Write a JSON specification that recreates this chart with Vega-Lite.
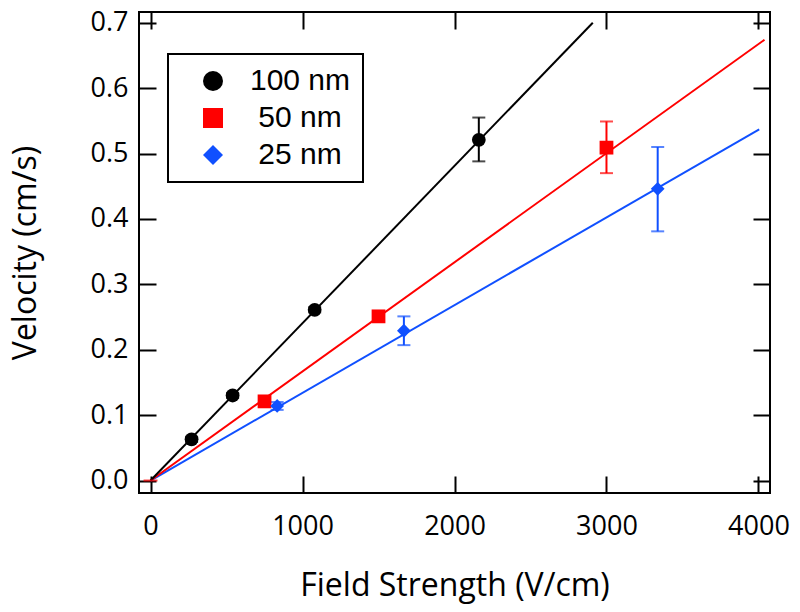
{
  "$schema": "https://vega.github.io/schema/vega-lite/v6.json",
  "width": 631,
  "height": 481,
  "autosize": {"type": "none"},
  "padding": {"left": 139, "top": 12, "right": 30, "bottom": 119},
  "background": "white",
  "datasets": {
    "pts": [
      {"series": "100 nm", "x": 270, "y": 0.063, "lo": 0.059, "hi": 0.067},
      {"series": "100 nm", "x": 540, "y": 0.130, "lo": 0.126, "hi": 0.134},
      {"series": "100 nm", "x": 1080, "y": 0.261, "lo": 0.257, "hi": 0.265},
      {"series": "100 nm", "x": 2160, "y": 0.521, "lo": 0.488, "hi": 0.555},
      {"series": "50 nm", "x": 750, "y": 0.121, "lo": 0.116, "hi": 0.126},
      {"series": "50 nm", "x": 1500, "y": 0.251, "lo": 0.246, "hi": 0.256},
      {"series": "50 nm", "x": 3000, "y": 0.509, "lo": 0.470, "hi": 0.549},
      {"series": "25 nm", "x": 833, "y": 0.114, "lo": 0.108, "hi": 0.120},
      {"series": "25 nm", "x": 1667, "y": 0.229, "lo": 0.207, "hi": 0.251},
      {"series": "25 nm", "x": 3337, "y": 0.446, "lo": 0.381, "hi": 0.510}
    ],
    "origin": [
      {"series": "50 nm", "x": 0, "lo": 0, "hi": 0}
    ],
    "fits": [
      {"series": "25 nm", "x": 0, "y": 0},
      {"series": "25 nm", "x": 4005, "y": 0.537},
      {"series": "50 nm", "x": 0, "y": 0},
      {"series": "50 nm", "x": 4040, "y": 0.674},
      {"series": "100 nm", "x": 0, "y": 0},
      {"series": "100 nm", "x": 2910, "y": 0.700}
    ]
  },
  "layer": [
    {
      "data": {"name": "fits"},
      "mark": {"type": "line", "strokeWidth": 2},
      "encoding": {
        "x": {"field": "x", "type": "quantitative",
          "scale": {"domain": [-76, 4076], "nice": false, "zero": false},
          "axis": {"orient": "bottom", "values": [0, 1000, 2000, 3000, 4000], "format": "d", "title": "Field Strength (V/cm)",
            "labelPadding": 37, "titleY": 102, "titleBaseline": "alphabetic"}},
        "y": {"field": "y", "type": "quantitative",
          "scale": {"domain": [-0.0191, 0.7164], "nice": false, "zero": false},
          "axis": {"orient": "left", "values": [0, 0.1, 0.2, 0.3, 0.4, 0.5, 0.6, 0.7], "format": ".1f", "title": "Velocity (cm/s)",
            "labelPadding": 28, "titleX": -104, "titleBaseline": "alphabetic"}},
        "stroke": {"field": "series", "type": "nominal", "legend": null,
          "scale": {"domain": ["25 nm", "100 nm", "50 nm"], "range": ["#1050ff", "#000000", "#ff0000"]}},
        "detail": {"field": "series"}
      }
    },
    {
      "data": {"name": "pts"},
      "mark": {"type": "rule", "strokeWidth": 2},
      "encoding": {
        "x": {"field": "x", "type": "quantitative", "axis": null},
        "y": {"field": "lo", "type": "quantitative", "axis": null},
        "y2": {"field": "hi"},
        "stroke": {"field": "series", "type": "nominal", "legend": null}
      }
    },
    {
      "data": {"name": "pts"},
      "mark": {"type": "tick", "orient": "horizontal", "size": 13, "thickness": 2},
      "encoding": {
        "x": {"field": "x", "type": "quantitative", "axis": null},
        "y": {"field": "lo", "type": "quantitative", "axis": null},
        "fill": {"field": "series", "type": "nominal", "legend": null,
          "scale": {"domain": ["50 nm", "25 nm", "100 nm"], "range": ["#ff0000", "#1050ff", "#000000"]}}
      }
    },
    {
      "data": {"name": "pts"},
      "mark": {"type": "tick", "orient": "horizontal", "size": 13, "thickness": 2},
      "encoding": {
        "x": {"field": "x", "type": "quantitative", "axis": null},
        "y": {"field": "hi", "type": "quantitative", "axis": null},
        "fill": {"field": "series", "type": "nominal", "legend": null}
      }
    },
    {
      "data": {"name": "origin"},
      "mark": {"type": "tick", "orient": "horizontal", "size": 14, "thickness": 2},
      "encoding": {
        "x": {"field": "x", "type": "quantitative", "axis": null},
        "y": {"field": "lo", "type": "quantitative", "axis": null},
        "fill": {"field": "series", "type": "nominal", "legend": null}
      }
    },
    {
      "data": {"name": "pts"},
      "mark": {"type": "point", "filled": true, "opacity": 1, "size": 190},
      "encoding": {
        "x": {"field": "x", "type": "quantitative",
          "axis": {"orient": "top", "values": [0, 1000, 2000, 3000, 4000], "labels": false, "title": null}},
        "y": {"field": "y", "type": "quantitative",
          "axis": {"orient": "right", "values": [0, 0.1, 0.2, 0.3, 0.4, 0.5, 0.6, 0.7], "labels": false, "title": null}},
        "color": {"field": "series", "type": "nominal",
          "scale": {"domain": ["100 nm", "50 nm", "25 nm"], "range": ["#000000", "#ff0000", "#1050ff"]},
          "legend": {"title": null, "orient": "none", "legendX": 29, "legendY": 42,
            "symbolSize": 400, "symbolOffset": 18, "labelOffset": 72, "labelAlign": "center",
            "labelFont": "Liberation Sans", "labelFontSize": 30, "labelColor": "black",
            "padding": 12, "rowPadding": 7, "strokeColor": "black"}},
        "shape": {"field": "series", "type": "nominal",
          "scale": {"domain": ["100 nm", "50 nm", "25 nm"], "range": ["circle", "square", "diamond"]}}
      }
    }
  ],
  "resolve": {"axis": {"x": "independent", "y": "independent"}},
  "config": {
    "view": {"stroke": "black", "strokeWidth": 2},
    "legend": {"strokeWidth": 2},
    "axis": {
      "domain": false, "grid": false,
      "tickSize": -17, "tickWidth": 2, "tickColor": "black",
      "labelFont": "Open Sans", "labelFontSize": 27, "labelColor": "black",
      "titleFont": "Open Sans", "titleFontSize": 32, "titleFontWeight": "normal", "titleColor": "black",
      "labelFlush": false, "labelOverlap": false
    }
  }
}
